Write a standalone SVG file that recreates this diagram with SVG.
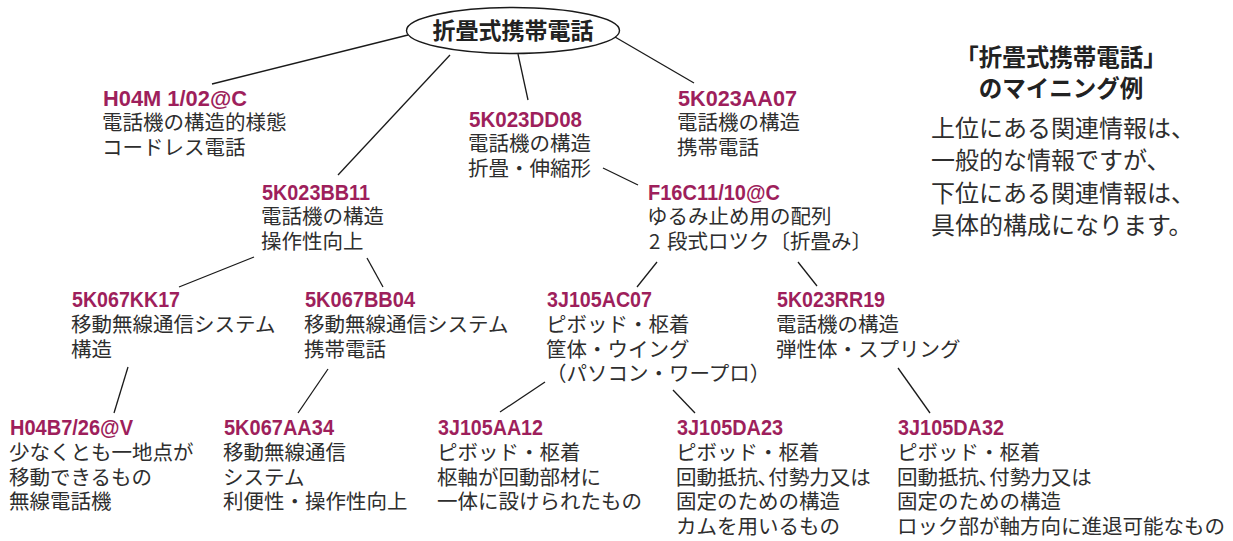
<svg xmlns="http://www.w3.org/2000/svg" width="1233" height="541" viewBox="0 0 1233 541">
<style>
.n{font-family:"Noto Sans CJK JP","Noto Sans",sans-serif;font-size:20.5px;fill:#2e2e2e}
.code{font-family:"Liberation Sans Narrow","Liberation Sans",Arial,sans-serif;font-weight:bold;font-size:22px;fill:#9e1f5c}
.root{font-family:"Noto Sans CJK JP",sans-serif;font-weight:bold;font-size:23px;fill:#222}
.title{font-family:"Noto Sans CJK JP",sans-serif;font-weight:bold;font-size:23.5px;fill:#222}
.para{font-family:"Noto Sans CJK JP",sans-serif;font-size:24px;fill:#2e2e2e}
.conn line{stroke:#1a1a1a;stroke-width:1.3;fill:none}
</style>
<rect width="1233" height="541" fill="#fff"/>
<g class="conn" id="connectors">
<line x1="408" y1="35" x2="212" y2="84"/>
<line x1="450" y1="55" x2="338" y2="175"/>
<line x1="518" y1="54" x2="528" y2="100"/>
<line x1="615" y1="37" x2="694" y2="83"/>
<line x1="603" y1="168" x2="638" y2="185"/>
<line x1="254" y1="257" x2="179" y2="287"/>
<line x1="367" y1="258" x2="383" y2="287"/>
<line x1="657" y1="262" x2="637" y2="287"/>
<line x1="798" y1="262" x2="817" y2="286"/>
<line x1="128" y1="367" x2="114" y2="413"/>
<line x1="328" y1="369" x2="298" y2="413"/>
<line x1="545" y1="382" x2="500" y2="412"/>
<line x1="673" y1="390" x2="695" y2="413"/>
<line x1="898" y1="368" x2="930" y2="413"/>
</g>
<g id="root">
<ellipse cx="513" cy="30.5" rx="106.5" ry="23" fill="#fff" stroke="#1a1a1a" stroke-width="1.4"/>
<text class="root" x="513" y="39" text-anchor="middle">折畳式携帯電話</text>
</g>
<g id="n-H04M">
<text class="n"><tspan class="code" x="103" y="106" textLength="144" lengthAdjust="spacingAndGlyphs">H04M 1/02@C</tspan><tspan x="102" y="130">電話機の構造的様態</tspan><tspan x="102" y="155">コードレス電話</tspan></text>
</g>
<g id="n-5K023DD08">
<text class="n"><tspan class="code" x="469" y="127" textLength="113" lengthAdjust="spacingAndGlyphs">5K023DD08</tspan><tspan x="468" y="151">電話機の構造</tspan><tspan x="468" y="176">折畳・伸縮形</tspan></text>
</g>
<g id="n-5K023AA07">
<text class="n"><tspan class="code" x="678" y="106" textLength="119" lengthAdjust="spacingAndGlyphs">5K023AA07</tspan><tspan x="677" y="130">電話機の構造</tspan><tspan x="677" y="155">携帯電話</tspan></text>
</g>
<g id="n-5K023BB11">
<text class="n"><tspan class="code" x="262" y="200" textLength="108" lengthAdjust="spacingAndGlyphs">5K023BB11</tspan><tspan x="261" y="224">電話機の構造</tspan><tspan x="261" y="249">操作性向上</tspan></text>
</g>
<g id="n-F16C">
<text class="n"><tspan class="code" x="648" y="200" textLength="132" lengthAdjust="spacingAndGlyphs">F16C11/10@C</tspan><tspan x="647" y="224">ゆるみ止め用の配列</tspan><tspan x="649" y="249">2</tspan><tspan x="667" y="249">段式ロツク〔折畳み〕</tspan></text>
</g>
<g id="n-5K067KK17">
<text class="n"><tspan class="code" x="72" y="307" textLength="108" lengthAdjust="spacingAndGlyphs">5K067KK17</tspan><tspan x="71" y="332">移動無線通信システム</tspan><tspan x="71" y="357">構造</tspan></text>
</g>
<g id="n-5K067BB04">
<text class="n"><tspan class="code" x="305" y="307" textLength="110" lengthAdjust="spacingAndGlyphs">5K067BB04</tspan><tspan x="304" y="332">移動無線通信システム</tspan><tspan x="304" y="357">携帯電話</tspan></text>
</g>
<g id="n-3J105AC07">
<text class="n"><tspan class="code" x="547" y="307" textLength="105" lengthAdjust="spacingAndGlyphs">3J105AC07</tspan><tspan x="546" y="332">ピボッド・枢着</tspan><tspan x="546" y="357">筐体・ウイング</tspan><tspan x="546" y="381">（パソコン・ワープロ）</tspan></text>
</g>
<g id="n-5K023RR19">
<text class="n"><tspan class="code" x="777" y="307" textLength="108" lengthAdjust="spacingAndGlyphs">5K023RR19</tspan><tspan x="776" y="332">電話機の構造</tspan><tspan x="776" y="357">弾性体・スプリング</tspan></text>
</g>
<g id="n-H04B7">
<text class="n"><tspan class="code" x="10" y="435" textLength="123" lengthAdjust="spacingAndGlyphs">H04B7/26@V</tspan><tspan x="9" y="460">少なくとも一地点が</tspan><tspan x="9" y="485">移動できるもの</tspan><tspan x="9" y="509">無線電話機</tspan></text>
</g>
<g id="n-5K067AA34">
<text class="n"><tspan class="code" x="224" y="435" textLength="110" lengthAdjust="spacingAndGlyphs">5K067AA34</tspan><tspan x="223" y="460">移動無線通信</tspan><tspan x="223" y="485">システム</tspan><tspan x="223" y="509">利便性・操作性向上</tspan></text>
</g>
<g id="n-3J105AA12">
<text class="n"><tspan class="code" x="438" y="435" textLength="105" lengthAdjust="spacingAndGlyphs">3J105AA12</tspan><tspan x="437" y="460">ピボッド・枢着</tspan><tspan x="437" y="485">枢軸が回動部材に</tspan><tspan x="437" y="509">一体に設けられたもの</tspan></text>
</g>
<g id="n-3J105DA23">
<text class="n"><tspan class="code" x="677" y="435" textLength="106" lengthAdjust="spacingAndGlyphs">3J105DA23</tspan><tspan x="676" y="460">ピボッド・枢着</tspan><tspan x="676" y="485">回動抵抗､付勢力又は</tspan><tspan x="676" y="509">固定のための構造</tspan><tspan x="676" y="534">カムを用いるもの</tspan></text>
</g>
<g id="n-3J105DA32">
<text class="n"><tspan class="code" x="898" y="435" textLength="106" lengthAdjust="spacingAndGlyphs">3J105DA32</tspan><tspan x="897" y="460">ピボッド・枢着</tspan><tspan x="897" y="485">回動抵抗､付勢力又は</tspan><tspan x="897" y="509">固定のための構造</tspan><tspan x="897" y="534">ロック部が軸方向に進退可能なもの</tspan></text>
</g>
<g id="caption">
<text class="title"><tspan x="1061" y="66" text-anchor="middle">「折畳式携帯電話」</tspan><tspan x="1061" y="97" text-anchor="middle">のマイニング例</tspan></text>
<text class="para"><tspan x="931" y="137">上位にある関連情報は、</tspan><tspan x="931" y="169">一般的な情報ですが、</tspan><tspan x="931" y="202">下位にある関連情報は、</tspan><tspan x="931" y="234">具体的構成になります。</tspan></text>
</g>
</svg>
